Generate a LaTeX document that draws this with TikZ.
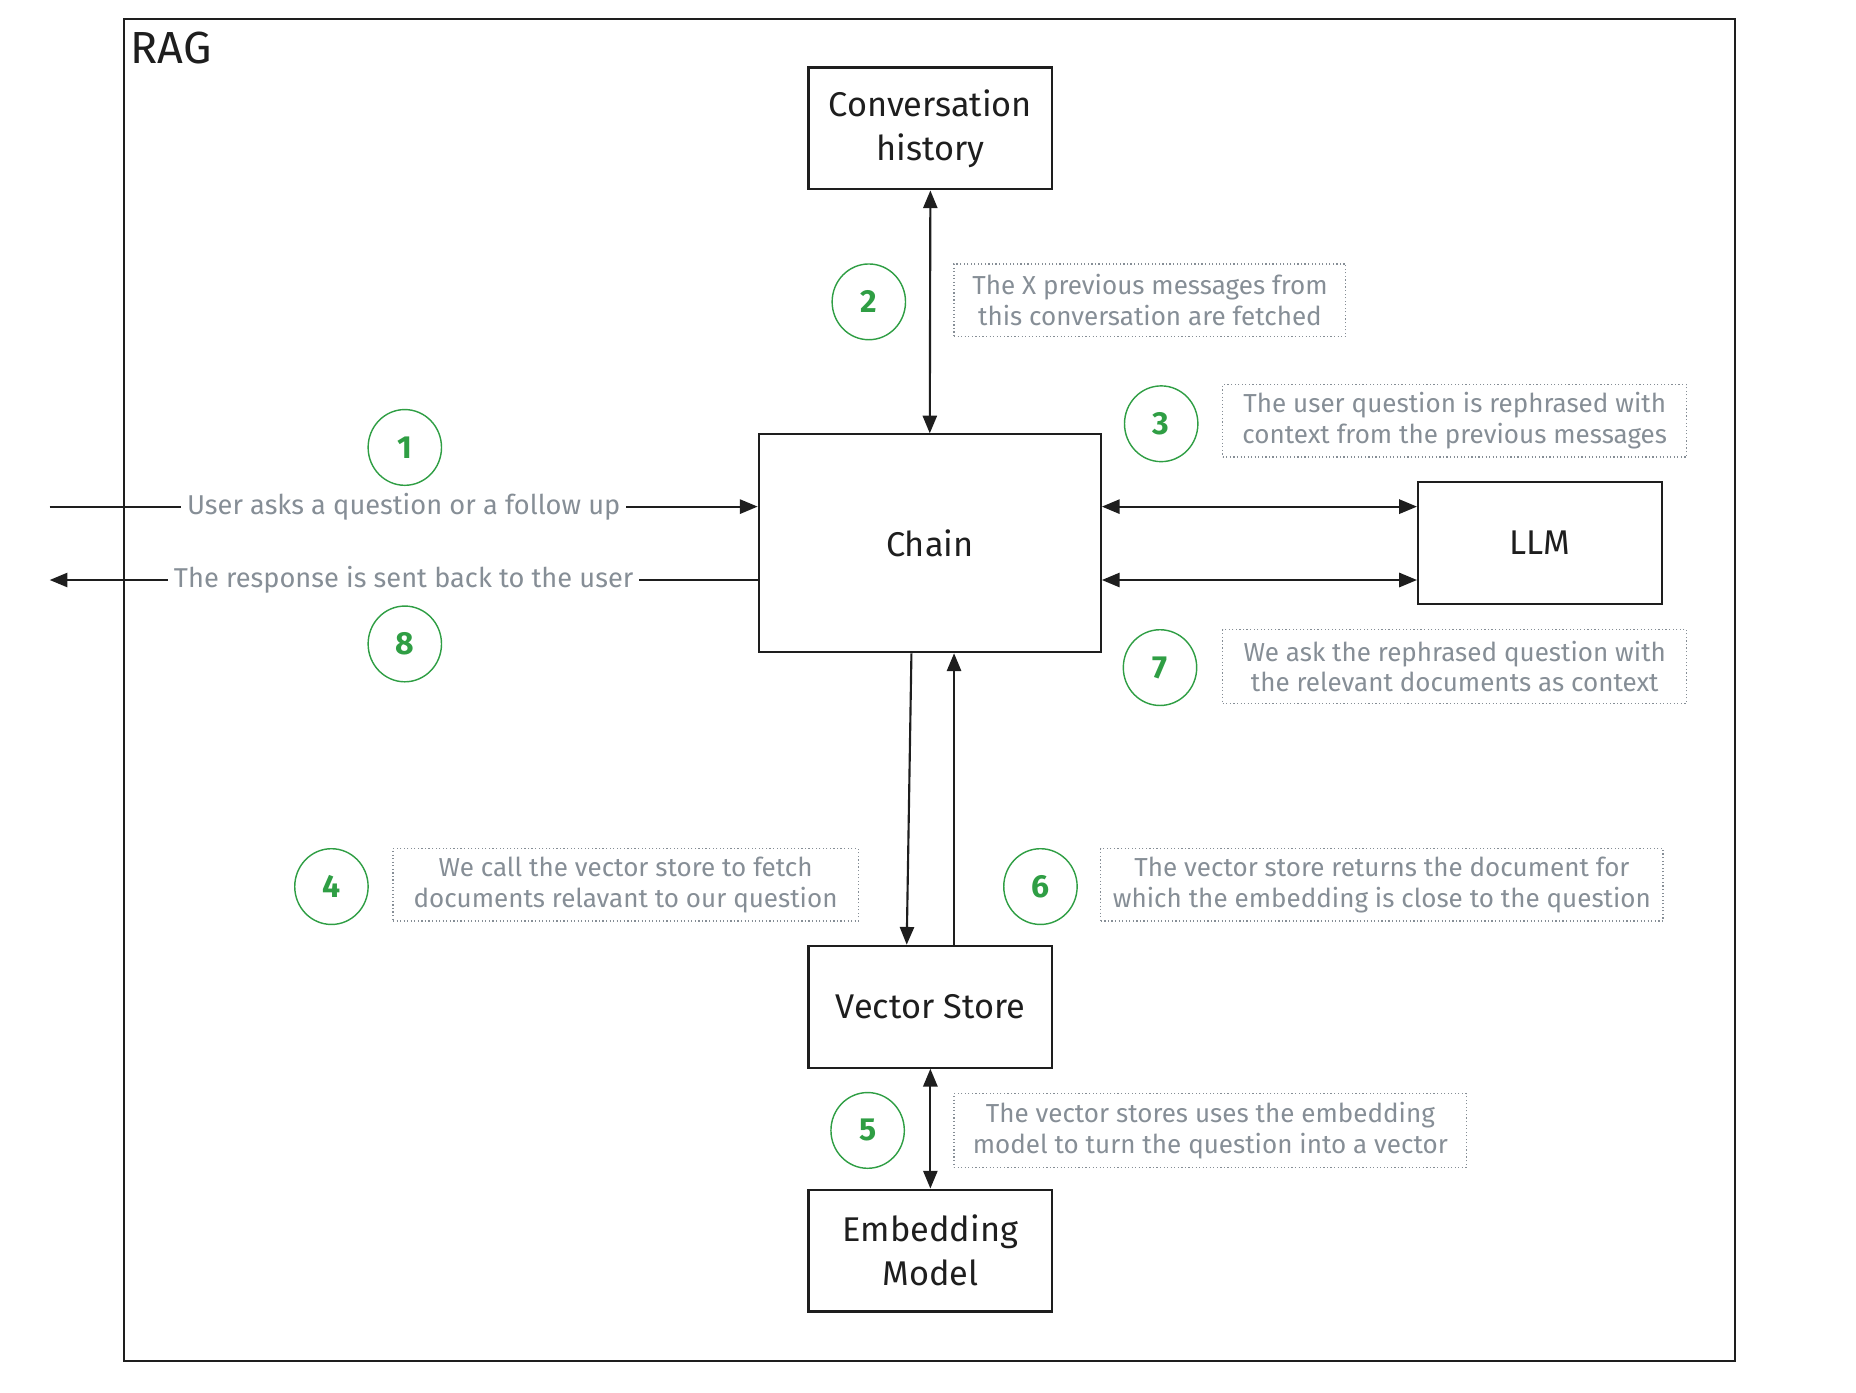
\documentclass[tikz,border=0pt]{standalone}
\usepackage{fontspec}
\setmainfont{Fira Sans}
\usetikzlibrary{arrows.meta,calc,shapes.geometric}
\definecolor{ink}{HTML}{1E1E1E}
\definecolor{note}{HTML}{868E96}
\definecolor{stepgreen}{HTML}{2F9E44}
\begin{document}
\begin{tikzpicture}[x=1pt,y=-1pt,
  block/.style={draw=ink,line width=1.8pt,minimum width=206pt,minimum height=103pt,
    align=center,inner sep=0pt,text=ink,font=\fontsize{29}{37}\selectfont},
  badge/.style={draw=stepgreen,line width=1.2pt,ellipse,minimum width=62pt,minimum height=64pt,
    inner sep=0pt,text=stepgreen,font=\fontsize{27}{30}\selectfont\bfseries},
  notebox/.style={draw=note,dotted,line width=1pt,text=note,align=center,inner sep=0pt,
    font=\fontsize{22}{26}\selectfont},
  flowlabel/.style={fill=white,text=note,inner sep=5pt,font=\fontsize{23}{26}\selectfont},
  arr/.style={draw=ink,line width=1.8pt,-{Triangle[length=15pt,width=12pt]}},
  dbl/.style={draw=ink,line width=1.8pt,{Triangle[length=15pt,width=12pt]}-{Triangle[length=15pt,width=12pt]}}
]
% canvas and outer frame
\useasboundingbox (0,0) rectangle (1568,1176);
\draw[ink,line width=1.8pt] (105,16) rectangle (1466,1150);
\node[anchor=north west,text=ink,inner sep=0pt,font=\fontsize{38}{40}\selectfont] (title) at (110,27) {RAG};

% components
\node[block] (conv)  at (786,108.5)  {Conversation\\history};
\node[block,minimum width=289pt,minimum height=184pt] (chain) at (785.5,459) {Chain};
\node[block] (llm)   at (1301,458.5) {LLM};
\node[block] (vs)    at (786,850.5)  {Vector Store};
\node[block] (emb)   at (786,1056.5) {Embedding\\Model};

% numbered steps
\node[badge] (s1) at (342,378) {1};
\node[badge] (s2) at (734,255) {2};
\node[badge] (s3) at (981,358) {3};
\node[badge] (s4) at (280,749) {4};
\node[badge] (s5) at (733,955) {5};
\node[badge] (s6) at (879,749) {6};
\node[badge] (s7) at (980,564) {7};
\node[badge] (s8) at (342,544) {8};

% step notes
\node[notebox,minimum width=331pt,minimum height=61pt] (n2) at (971.5,253.5)
  {The X previous messages from\\this conversation are fetched};
\node[notebox,minimum width=392pt,minimum height=61pt] (n3) at (1229,355.5)
  {The user question is rephrased with\\context from the previous messages};
\node[notebox,minimum width=392pt,minimum height=62pt] (n7) at (1229,563)
  {We ask the rephrased question with\\the relevant documents as context};
\node[notebox,minimum width=393pt,minimum height=61pt] (n4) at (528.5,747.5)
  {We call the vector store to fetch\\documents relavant to our question};
\node[notebox,minimum width=475pt,minimum height=61pt] (n6) at (1167.5,747.5)
  {The vector store returns the document for\\which the embedding is close to the question};
\node[notebox,minimum width=433pt,minimum height=62pt] (n5) at (1022.5,955)
  {The vector stores uses the embedding\\model to turn the question into a vector};

% rows of the horizontal connectors
\coordinate (rowin)   at (0,428);
\coordinate (rowout)  at (0,490);
\coordinate (userin)  at (42,428);
\coordinate (userout) at (42,490);

% connectors
\draw[arr] (userin) -- (chain.west |- rowin)
  node[flowlabel,midway] {User asks a question or a follow up};
\draw[arr] (chain.west |- rowout) -- (userout)
  node[flowlabel,midway] {The response is sent back to the user};
\draw[dbl] (conv.south) -- (chain.north);
\draw[dbl] (chain.east |- rowin) -- (llm.west |- rowin);
\draw[dbl] (chain.east |- rowout) -- (llm.west |- rowout);
\draw[arr] ([xshift=-15.5pt]chain.south) -- ([xshift=-20pt]vs.north);
\draw[arr] ([xshift=20pt]vs.north) -- ([xshift=20.5pt]chain.south);
\draw[dbl] (vs.south) -- (emb.north);
\end{tikzpicture}
\end{document}
